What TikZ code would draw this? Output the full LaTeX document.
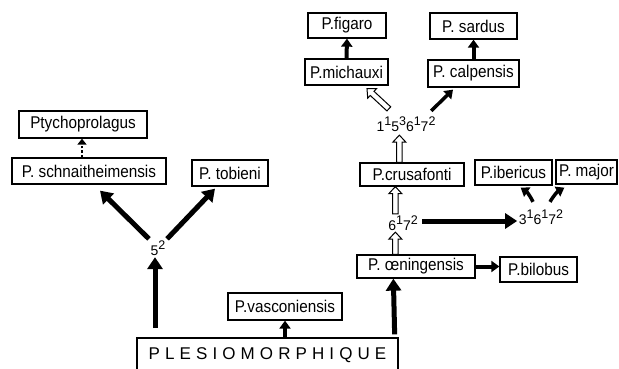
\documentclass[tikz,border=0pt]{standalone}
\usepackage{fontspec}
\setmainfont{Liberation Sans}
\newfontfamily\spacedfont[LetterSpace=30]{Liberation Sans}
\newfontfamily\boxfont[FakeStretch=0.9]{Liberation Sans}
\usetikzlibrary{arrows.meta,calc}
\newcommand\spx[1]{\raisebox{6pt}{\fontsize{12.5}{12.5}\selectfont #1}}
\newcommand\harrow[2]{%
  \coordinate (hb) at ($(#2)!7pt!(#1)$);
  \draw[hollow] ($(#1)!2.8pt!90:(#2)$) -- ($(hb)!2.8pt!90:(#2)$) -- ($(hb)!6.5pt!90:(#2)$) -- (#2)
    -- ($(hb)!6.5pt!-90:(#2)$) -- ($(hb)!2.8pt!-90:(#2)$) -- ($(#1)!2.8pt!-90:(#2)$) -- cycle;}
\begin{document}
\begin{tikzpicture}[x=1pt,y=-1pt,
  box/.style={draw, line width=1.3pt, inner sep=0pt, font=\boxfont\fontsize{17}{17}\selectfont},
  lab/.style={inner sep=1.5pt, font=\fontsize{14}{14}\selectfont},
  big/.style={line width=5pt, -{Triangle[width=15pt,length=12pt]}},
  mid/.style={line width=4pt, -{Triangle[width=11pt,length=8pt]}},
  small/.style={line width=3.5pt, -{Triangle[width=11pt,length=8pt]}},
  hollow/.style={line width=1pt, fill=white, line join=miter},
  dashedarrow/.style={line width=2.5pt, dash pattern=on 2.5pt off 2pt, -{Triangle[width=9pt,length=6pt]}}
]
\useasboundingbox (0,0) rectangle (619,369);
% nodes
\node[box, minimum width=128pt, minimum height=27pt] (ptycho) at (83,124.5) {Ptychoprolagus};
\node[box, minimum width=154pt, minimum height=26pt] (schn) at (89,171) {P. schnaitheimensis};
\node[box, minimum width=76pt, minimum height=26pt] (tob) at (230,173) {P. tobieni};
\node[lab] (five2) at (158,248) {5\spx{2}};
\node[box, minimum width=78pt, minimum height=25pt] (fig) at (347,25.5) {P.figaro};
\node[box, minimum width=87pt, minimum height=26pt] (sard) at (473.5,26) {P. sardus};
\node[box, minimum width=83pt, minimum height=26pt] (mich) at (346.5,72) {P.michauxi};
\node[box, minimum width=91pt, minimum height=27pt] (calp) at (473.5,73.5) {P. calpensis};
\node[lab] (l4) at (406,124) {1\spx{1}5\spx{3}6\spx{1}7\spx{2}};
\node[box, minimum width=104pt, minimum height=23pt] (crus) at (412,174.5) {P.crusafonti};
\node[box, minimum width=77pt, minimum height=25pt] (iber) at (513.5,172.5) {P.ibericus};
\node[box, minimum width=61pt, minimum height=24pt] (major) at (586.5,172) {P. major};
\node[lab] (l2) at (403,223) {6\spx{1}7\spx{2}};
\node[lab] (l3) at (541,217) {3\spx{1}6\spx{1}7\spx{2}};
\node[box, minimum width=118pt, minimum height=23pt] (oen) at (416,266.5) {P. œningensis};
\node[box, minimum width=77pt, minimum height=25pt] (bil) at (538.5,269.5) {P.bilobus};
\node[box, minimum width=114pt, minimum height=27pt] (vasc) at (285,306.5) {P.vasconiensis};
\node[box, minimum width=261pt, minimum height=35pt, font=\spacedfont\fontsize{17}{17}\selectfont] (ples) at (267.5,355.5) {PLESIOMORPHIQUE};
% left branch
\coordinate (lfoot) at (155,328);
\draw[big] (lfoot) -- (lfoot |- five2.south);
\draw[big] (five2.north west) -- ($(schn.south)+(11,6)$);
\draw[big] (five2.north east) -- ($(tob.south)+(-15,2)$);
\draw[dashedarrow] ($(schn.north)+(-7,0)$) -- ($(ptycho.south)+(-1,0)$);
% centre
\draw[mid] (ples.north -| vasc.south) -- (vasc.south);
\draw[big] ($(ples.north east)+(-4,-3)$) -- ($(oen.south west)+(37,0)$);
\draw[mid] (oen.east) -- (oen.east -| bil.west);
% hollow arrows
\coordinate (h1s) at ($(oen.north west)+(39,0)$);
\coordinate (h1e) at (h1s |- l2.south);
\harrow{h1s}{h1e}
\coordinate (h2s) at (h1s |- l2.north);
\coordinate (h2e) at (h1s |- crus.south);
\harrow{h2s}{h2e}
\coordinate (h3s) at ($(crus.north west)+(40,0)$);
\coordinate (h3e) at ($(h3s |- l4.south)+(0,2)$);
\harrow{h3s}{h3e}
\coordinate (h4s) at ($(l4.north west)+(14,-6)$);
\coordinate (h4e) at ($(mich.south)+(20.5,3)$);
\harrow{h4s}{h4e}
% black arrows top
\draw[small] ($(l4.north east)+(-6,-4)$) -- ($(calp.south)+(-20.5,2)$);
\draw[mid] (mich.north) -- (fig.south);
\draw[mid] (calp.north) -- (sard.south);
% right side
\coordinate (la) at ($(l2.east)+(3,-2)$);
\draw[big] (la) -- (la -| l3.west);
\draw[small] ($(l3.north)+(-8,-6)$) to[bend right=15] ($(iber.south east)+(-32,2)$);
\draw[small] ($(l3.north)+(9,-6)$) to[bend left=15] ($(major.south west)+(9,3)$);
\end{tikzpicture}
\end{document}
